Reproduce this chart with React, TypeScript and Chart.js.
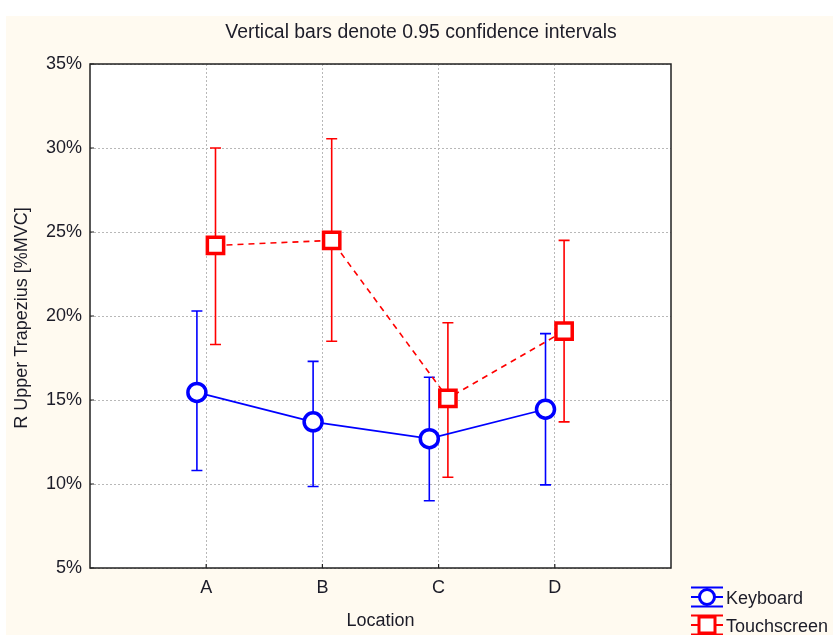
import React, { useEffect, useRef } from "react";
import { Chart, registerables } from "chart.js";

Chart.register(...registerables);

const categories = ["A", "B", "C", "D"];
const yTicks = [5, 10, 15, 20, 25, 30, 35];

const keyboardMean = [15.45, 13.7, 12.7, 14.45];
const keyboardLower = [10.8, 9.85, 9.0, 9.95];
const keyboardUpper = [20.3, 17.3, 16.35, 18.95];

const touchMean = [24.2, 24.5, 15.1, 19.1];
const touchLower = [18.3, 18.5, 10.4, 13.7];
const touchUpper = [30.0, 30.55, 19.6, 24.5];

const seriesNames = ["Keyboard", "Touchscreen"];
const titleText = "Vertical bars denote 0.95 confidence intervals";
const xTitle = "Location";
const yTitle = "R Upper Trapezius [%MVC]";

const OFFSET = 0.08;
const BLUE = "#0000ff";
const RED = "#ff0000";
const CREAM = "#fffaf0";
const TEXT = "#1c1c28";
const FONT = "Arial, 'Liberation Sans', sans-serif";

const errorLower = [keyboardLower, touchLower];
const errorUpper = [keyboardUpper, touchUpper];

const decorPlugin = {
  id: "decor",
  beforeDraw(chart: any) {
    const { ctx, width, height, chartArea } = chart;
    ctx.save();
    ctx.fillStyle = "#ffffff";
    ctx.fillRect(0, 0, width, height);
    ctx.fillStyle = CREAM;
    ctx.fillRect(6, 16, width - 6, height - 16);
    ctx.fillStyle = "#ffffff";
    ctx.fillRect(chartArea.left, chartArea.top, chartArea.right - chartArea.left, chartArea.bottom - chartArea.top);
    ctx.restore();
  },
  beforeDatasetsDraw(chart: any) {
    const { ctx } = chart;
    const xs = chart.scales.x;
    const ys = chart.scales.y;
    ctx.save();
    chart.data.datasets.forEach((ds: any, di: number) => {
      ctx.strokeStyle = ds.borderColor;
      ctx.lineWidth = 1.6;
      ctx.setLineDash([]);
      ds.data.forEach((pt: any, i: number) => {
        const x = xs.getPixelForValue(pt.x);
        const yl = ys.getPixelForValue(errorLower[di][i]);
        const yu = ys.getPixelForValue(errorUpper[di][i]);
        ctx.beginPath();
        ctx.moveTo(x, yl);
        ctx.lineTo(x, yu);
        ctx.moveTo(x - 5.5, yl);
        ctx.lineTo(x + 5.5, yl);
        ctx.moveTo(x - 5.5, yu);
        ctx.lineTo(x + 5.5, yu);
        ctx.stroke();
      });
    });
    ctx.restore();
  },
  afterDatasetsDraw(chart: any) {
    const { ctx, chartArea } = chart;
    const xs = chart.scales.x;
    const ys = chart.scales.y;
    ctx.save();
    // plot frame
    ctx.strokeStyle = "#222222";
    ctx.lineWidth = 1.5;
    ctx.setLineDash([]);
    ctx.strokeRect(chartArea.left, chartArea.top, chartArea.right - chartArea.left, chartArea.bottom - chartArea.top);
    // inward tick marks
    ctx.lineWidth = 1.2;
    ctx.beginPath();
    xs.ticks.forEach((t: any) => {
      const x = xs.getPixelForValue(t.value);
      ctx.moveTo(x, chartArea.bottom);
      ctx.lineTo(x, chartArea.bottom - 4);
    });
    ys.ticks.forEach((t: any) => {
      const y = ys.getPixelForValue(t.value);
      ctx.moveTo(chartArea.left, y);
      ctx.lineTo(chartArea.left + 4, y);
    });
    ctx.stroke();

    // texts
    ctx.fillStyle = TEXT;
    ctx.textBaseline = "middle";
    ctx.textAlign = "center";
    ctx.font = `19.4px ${FONT}`;
    ctx.fillText(titleText, 421, 33);
    ctx.font = `18px ${FONT}`;
    ctx.fillText(xTitle, (chartArea.left + chartArea.right) / 2, 621);
    ctx.save();
    ctx.translate(22, (chartArea.top + chartArea.bottom) / 2 + 2);
    ctx.rotate(-Math.PI / 2);
    ctx.fillText(yTitle, 0, 0);
    ctx.restore();

    // legend
    const items = [
      { name: seriesNames[0], color: BLUE, style: "circle", cy: 597 },
      { name: seriesNames[1], color: RED, style: "rect", cy: 625 },
    ];
    items.forEach((it) => {
      const x0 = 691;
      const x1 = 723;
      const cx = 707;
      const top = it.cy - 9.5;
      const bot = it.cy + 9.5;
      ctx.strokeStyle = it.color;
      ctx.lineWidth = 2;
      ctx.beginPath();
      ctx.moveTo(x0, top);
      ctx.lineTo(x1, top);
      ctx.moveTo(x0, bot);
      ctx.lineTo(x1, bot);
      ctx.moveTo(x0, it.cy);
      ctx.lineTo(x1, it.cy);
      ctx.stroke();
      ctx.fillStyle = "#ffffff";
      ctx.lineWidth = 3;
      ctx.beginPath();
      if (it.style === "circle") {
        ctx.arc(cx, it.cy, 7.5, 0, Math.PI * 2);
      } else {
        ctx.rect(cx - 8, it.cy - 8, 16, 16);
      }
      ctx.fill();
      ctx.stroke();
      ctx.fillStyle = TEXT;
      ctx.textAlign = "left";
      ctx.font = `18px ${FONT}`;
      ctx.fillText(it.name, 726, it.cy + 2);
    });
    ctx.restore();
  },
};

export default function App() {
  const canvasRef = useRef<HTMLCanvasElement | null>(null);

  useEffect(() => {
    document.body.style.margin = "0";
    const canvas = canvasRef.current;
    if (!canvas) return;

    const chart = new Chart(canvas, {
      type: "line",
      data: {
        datasets: [
          {
            label: seriesNames[0],
            data: keyboardMean.map((v, i) => ({ x: i + 1 - OFFSET, y: v })),
            borderColor: BLUE,
            backgroundColor: "#ffffff",
            borderWidth: 1.7,
            pointStyle: "circle",
            pointRadius: 9,
            pointBorderWidth: 3.5,
            pointBackgroundColor: "#ffffff",
            pointBorderColor: BLUE,
            tension: 0,
          },
          {
            label: seriesNames[1],
            data: touchMean.map((v, i) => ({ x: i + 1 + OFFSET, y: v })),
            borderColor: RED,
            backgroundColor: "#ffffff",
            borderWidth: 1.6,
            borderDash: [6, 5],
            pointStyle: "rect",
            pointRadius: 11.5,
            pointBorderWidth: 3.5,
            pointBackgroundColor: "#ffffff",
            pointBorderColor: RED,
            tension: 0,
          },
        ],
      },
      options: {
        animation: false,
        responsive: false,
        events: [],
        layout: { padding: { left: 0, top: 64, right: 162, bottom: 0 } },
        plugins: {
          legend: { display: false },
          title: { display: false },
          tooltip: { enabled: false },
        },
        scales: {
          x: {
            type: "linear",
            min: 0,
            max: categories.length + 1,
            afterBuildTicks: (scale: any) => {
              scale.ticks = categories.map((_, i) => ({ value: i + 1 }));
            },
            afterFit: (scale: any) => {
              scale.height = 67;
            },
            ticks: {
              autoSkip: false,
              maxRotation: 0,
              padding: 9,
              color: TEXT,
              font: { family: FONT, size: 18 },
              callback: (v: any) => categories[Math.round(Number(v)) - 1] ?? "",
            },
            grid: {
              color: "#b8b8b8",
              lineWidth: 1,
              drawTicks: false,
            },
            border: { display: false, dash: [2, 2] },
          },
          y: {
            type: "linear",
            min: yTicks[0],
            max: yTicks[yTicks.length - 1],
            afterBuildTicks: (scale: any) => {
              scale.ticks = yTicks.map((v) => ({ value: v }));
            },
            afterFit: (scale: any) => {
              scale.width = 90;
            },
            ticks: {
              padding: 8,
              color: TEXT,
              font: { family: FONT, size: 18 },
              callback: (v: any) => `${v}%`,
            },
            grid: {
              color: "#b8b8b8",
              lineWidth: 1,
              drawTicks: false,
            },
            border: { display: false, dash: [2, 2] },
          },
        },
      },
      plugins: [decorPlugin],
    } as any);

    return () => {
      chart.destroy();
    };
  }, []);

  return (
    <div style={{ width: 833, height: 635, position: "relative" }}>
      <canvas ref={canvasRef} width={833} height={635} style={{ width: 833, height: 635, display: "block" }} />
    </div>
  );
}
